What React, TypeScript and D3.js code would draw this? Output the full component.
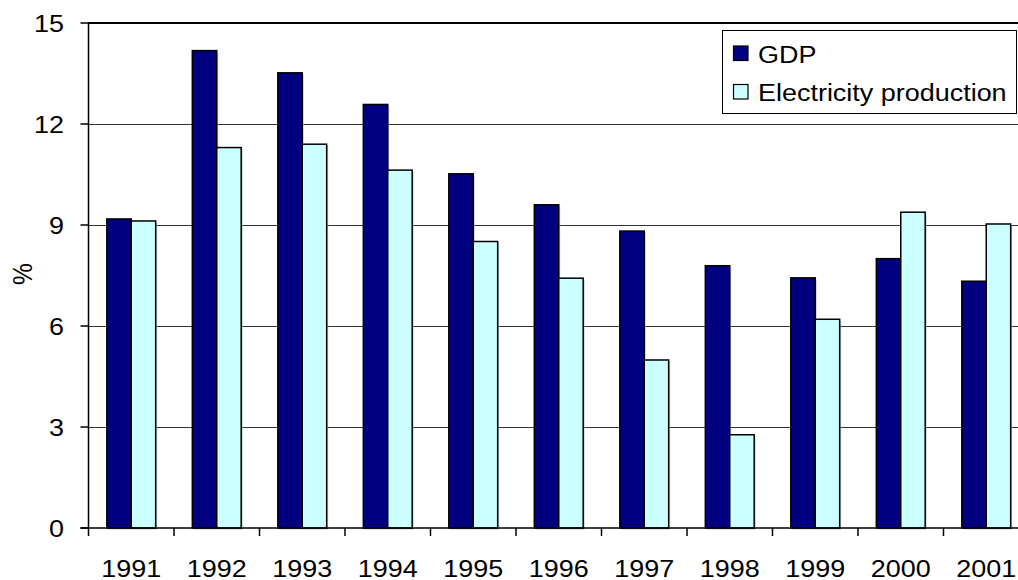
import React from "react";
import * as d3 from "d3";

const years = ["1991","1992","1993","1994","1995","1996","1997","1998","1999","2000","2001"];
const gdp = [9.18, 14.18, 13.52, 12.58, 10.52, 9.6, 8.82, 7.79, 7.43, 8.0, 7.33];
const electricity = [9.12, 11.3, 11.4, 10.63, 8.51, 7.42, 4.99, 2.77, 6.2, 9.38, 9.03];
const yTicks = [0, 3, 6, 9, 12, 15];
const seriesNames = ["GDP", "Electricity production"];
const seriesColors = ["#000080", "#CCFFFF"];

const W = 1018, H = 580;
const left = 88.5, top = 23, bottom = 528;
const catW = 85.5;
const right = left + catW * years.length;
const FS = 24.5;
const SX = 1.1;

export default function App() {
  const x = d3.scaleBand().domain(years).range([left, right]).paddingInner(0).paddingOuter(0);
  const inner = d3.scaleBand().domain(seriesNames).range([0, x.bandwidth()]).paddingInner(0).paddingOuter(0.75);
  const y = d3.scaleLinear().domain([0, 15]).range([bottom, top]);
  const series = [gdp, electricity];
  const font = "Arial, 'Liberation Sans', sans-serif";

  return (
    <svg width={W} height={H} style={{ position: "absolute", left: 0, top: 0, background: "#fff" }} fontFamily={font}>
      <rect x={0} y={0} width={W} height={H} fill="#fff" />
      {/* gridlines */}
      {yTicks.filter(t => t > 0 && t < 15).map(t => (
        <line key={t} x1={left} x2={W} y1={Math.round(y(t)) + 0.5} y2={Math.round(y(t)) + 0.5} stroke="#333" strokeWidth={1} />
      ))}
      <line x1={left} x2={W} y1={y(15)} y2={y(15)} stroke="#000" strokeWidth={2} />
      {/* bars */}
      {years.map((yr, i) => (
        <g key={yr}>
          {series.map((s, j) => {
            const bx = (x(yr) as number) + (inner(seriesNames[j]) as number);
            const bw = inner.bandwidth();
            return (
              <g key={j}>
                <rect x={bx + 1.5} y={y(s[i]) + 1.5} width={bw} height={bottom - y(s[i])} fill="#aaa" opacity={0.6} />
                <rect x={bx} y={y(s[i])} width={bw} height={bottom - y(s[i])} fill={seriesColors[j]} stroke="#000" strokeWidth={1.5} />
              </g>
            );
          })}
        </g>
      ))}
      {/* axes */}
      <line x1={left} x2={left} y1={top - 1} y2={bottom} stroke="#000" strokeWidth={1.5} />
      <line x1={left - 8} x2={W} y1={bottom} y2={bottom} stroke="#000" strokeWidth={1.5} />
      {yTicks.map(t => (
        <g key={t}>
          <line x1={left - 8} x2={left} y1={y(t)} y2={y(t)} stroke="#000" strokeWidth={1.5} />
          <text transform={`translate(64,${y(t) + 8.5}) scale(${SX},1)`} textAnchor="end" fontSize={FS} fill="#000">{t}</text>
        </g>
      ))}
      {years.map((yr, i) => (
        <g key={yr}>
          <line x1={x(yr) as number} x2={x(yr) as number} y1={bottom} y2={bottom + 8} stroke="#000" strokeWidth={1.5} />
          <text transform={`translate(${(x(yr) as number) + x.bandwidth() / 2},576.5) scale(${SX},1)`} textAnchor="middle" fontSize={FS} fill="#000">{yr}</text>
        </g>
      ))}
      <text transform="translate(32,274) rotate(-90) scale(1,1.1)" textAnchor="middle" fontSize={FS} fill="#000">%</text>
      {/* legend */}
      <rect x={722.5} y={30.5} width={294} height={83} fill="#fff" stroke="#000" strokeWidth={1} />
      {seriesNames.map((n, j) => (
        <g key={n}>
          <rect x={733.5} y={46 + j * 38.5} width={14.5} height={14.5} fill={seriesColors[j]} stroke="#000" strokeWidth={1.2} />
          <text transform={`translate(758,${63.3 + j * 37.7}) scale(${SX},1)`} fontSize={FS} fill="#000">{n}</text>
        </g>
      ))}
    </svg>
  );
}
